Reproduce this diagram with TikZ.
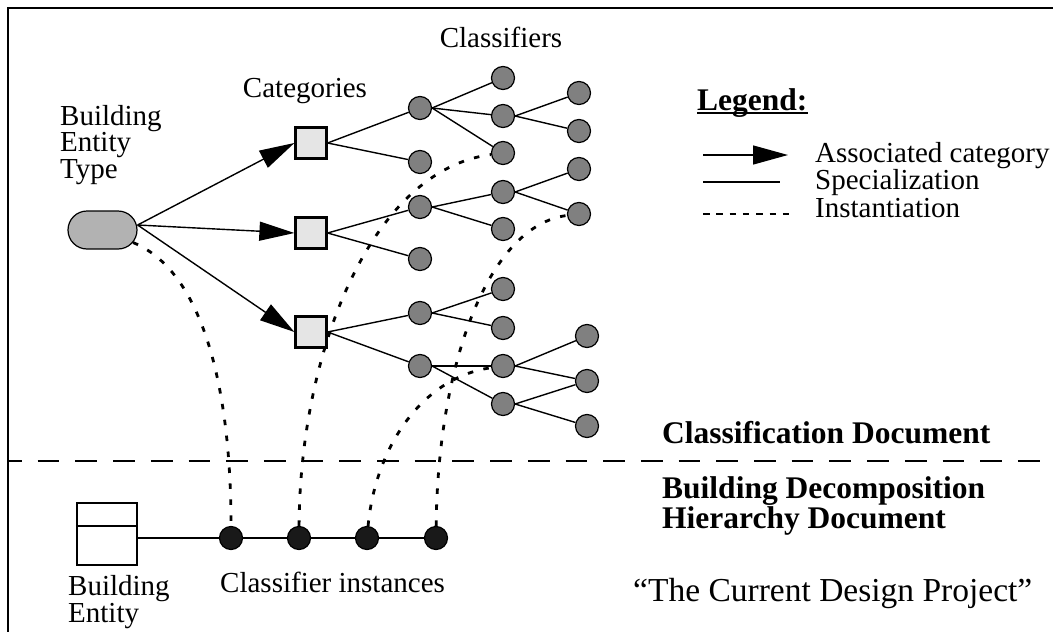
\documentclass[tikz,border=0pt]{standalone}
\usepackage{fontspec}
\setmainfont{Liberation Serif}
\usetikzlibrary{arrows.meta,shapes.misc,backgrounds}
\newcommand\regtxt{\fontsize{29}{25}\selectfont}
\newcommand\boldtxt{\fontsize{31.5}{28}\selectfont\bfseries}
\newcommand\quotetxt{\fontsize{33.5}{30}\selectfont}

\begin{document}
\begin{tikzpicture}[x=1pt,y=-1pt,
  frameline/.style={line width=2.4pt},
  bet/.style={rounded rectangle, draw, line width=1.2pt, fill=black!30,
    minimum width=69pt, minimum height=38pt, inner sep=0pt},
  cat/.style={rectangle, draw, line width=2.2pt, fill=black!10,
    minimum size=31pt, inner sep=0pt},
  cls/.style={circle, draw, line width=1.2pt, fill=black!50,
    minimum size=23pt, inner sep=0pt},
  inst/.style={circle, draw, line width=1.2pt, fill=black!90,
    minimum size=23pt, inner sep=0pt},
  entbox/.style={rectangle, draw, line width=2.4pt,
    minimum width=60pt, minimum height=62pt, inner sep=0pt},
  spec/.style={line width=1.4pt},
  assoc/.style={line width=1.4pt, -{Triangle[length=35pt,width=19pt]}},
  instline/.style={line width=2.8pt, dash pattern=on 5.5pt off 10.5pt},
  legdots/.style={line width=2.8pt, dash pattern=on 6.5pt off 6.8pt},
  sepline/.style={line width=2.2pt, dash pattern=on 21.7pt off 16pt, dash phase=8pt},
  lbl/.style={inner sep=0pt, font=\regtxt, align=left},
  blbl/.style={inner sep=0pt, font=\boldtxt, align=left}]

\useasboundingbox (0,0) rectangle (1053,632);

% outer frame (top and left edges)
\draw[frameline] (8,632) -- (8,8) -- (1053,8);

% ---- classification document ----
\node[bet] (bet) at (102.5,230) {};
\coordinate (betout) at ([yshift=5pt]bet.east);

\node[cat] (cat1) at (311,143) {};
\node[cat] (cat2) at (311,233) {};
\node[cat] (cat3) at (311,332) {};

% first level classifiers
\node[cls] (a1) at (420,108) {};
\node[cls] (a2) at (420,162) {};
\node[cls] (b1) at (420,207) {};
\node[cls] (b2) at (420,259) {};
\node[cls] (c1) at (420,313) {};
\node[cls] (c2) at (420,366) {};
% second level
\node[cls] (a11) at (503,78) {};
\node[cls] (a12) at (503,116) {};
\node[cls] (a13) at (503,153) {};
\node[cls] (b11) at (503,192) {};
\node[cls] (b12) at (503,229) {};
\node[cls] (c11) at (503,289) {};
\node[cls] (c12) at (503,328) {};
\node[cls] (c21) at (503,366) {};
\node[cls] (c22) at (503,404) {};
% third level
\node[cls] (a121) at (579,93) {};
\node[cls] (a122) at (579,131) {};
\node[cls] (b111) at (579,169) {};
\node[cls] (b112) at (579,214) {};
\node[cls] (c211) at (587,336) {};
\node[cls] (c212) at (587,381) {};
\node[cls] (c221) at (587,426) {};

% ---- building decomposition hierarchy document ----
\node[entbox] (be) at (107,534) {};
\draw[line width=2.4pt] ([yshift=-24pt]be.north west) -- ([yshift=-24pt]be.north east);

\node[inst] (i1) at (231,538) {};
\node[inst] (i2) at (299,538) {};
\node[inst] (i3) at (367,538) {};
\node[inst] (i4) at (436,538) {};

\begin{pgfonlayer}{background}
  % associated categories
  \draw[assoc] (betout) -- (cat1.west);
  \draw[assoc] (betout) -- (cat2.west);
  \draw[assoc] (betout) -- (cat3.west);
  % specializations
  \draw[spec] (cat1.east) -- (a1);
  \draw[spec] (cat1.east) -- (a2);
  \draw[spec] (cat2.east) -- (b1);
  \draw[spec] (cat2.east) -- (b2);
  \draw[spec] (cat3.east) -- (c1);
  \draw[spec] (cat3.east) -- (c2);
  \draw[spec] (a1.east) -- (a11);
  \draw[spec] (a1.east) -- (a12);
  \draw[spec] (a1.east) -- (a13);
  \draw[spec] (a12.east) -- (a121);
  \draw[spec] (a12.east) -- (a122);
  \draw[spec] (b1.east) -- (b11);
  \draw[spec] (b1.east) -- (b12);
  \draw[spec] (b11.east) -- (b111);
  \draw[spec] (b11.east) -- (b112);
  \draw[spec] (c1.east) -- (c11);
  \draw[spec] (c1.east) -- (c12);
  \draw[spec] (c2.east) -- (c21);
  \draw[spec] (c2.east) -- (c22);
  \draw[spec] (c21.east) -- (c211);
  \draw[spec] (c21.east) -- (c212);
  \draw[spec] (c22.east) -- (c212);
  \draw[spec] (c22.east) -- (c221);
  % building entity to its classifier instances
  \draw[spec] (be.east |- i1) -- (i4.east);
  % instantiations
  \draw[instline] (bet) .. controls (200,270) and (231,380) .. (i1);
  \draw[instline] (i2) .. controls (300,350) and (372,170) .. (a13);
  \draw[instline] (i3) .. controls (375,450) and (420,378) .. (c21);
  \draw[instline] (i4) .. controls (438,360) and (490,225) .. (b112);
\end{pgfonlayer}

% document separator
\coordinate (sepL) at (8,461);
\coordinate (sepR) at (1053,461);
\draw[sepline] (sepL) -- (sepR);

% labels (base anchor of a multi-line label is its last line)
\node[lbl, anchor=base west] (tbet) at (60,178) {Building\\Entity\\Type};
\node[lbl, anchor=base] (tcat) at (305,97) {Categories};
\node[lbl, anchor=base] (tcls) at (501,47) {Classifiers};
\node[lbl, anchor=base west] (tbe) at (68,622) {Building\\Entity};
\node[lbl, anchor=base west] (tinst) at (220,592) {Classifier instances};

\node[blbl, anchor=base west] (tcd) at (662,443) {Classification Document};
\node[blbl, anchor=base west] (tbd) at (662,528) {Building Decomposition\\Hierarchy Document};
\node[inner sep=0pt, font=\quotetxt, anchor=base west] (tproj) at (633,601) {“The Current Design Project”};

% legend
\node[blbl, anchor=base west] (leg) at (697,110) {Legend:};
\draw[line width=1.8pt] ([yshift=-3pt]leg.base west) -- ([yshift=-3pt]leg.base east);
\coordinate (l1a) at (703,155);
\coordinate (l1b) at (788,155);
\coordinate (l2a) at (703,182);
\coordinate (l2b) at (780,182);
\coordinate (l3a) at (703,214);
\coordinate (l3b) at (790,214);
\draw[assoc] (l1a) -- (l1b);
\draw[spec] (l2a) -- (l2b);
\draw[legdots] (l3a) -- (l3b);
\node[lbl, anchor=base west] (tl1) at (815,162) {Associated category};
\node[lbl, anchor=base west] (tl2) at (815,189) {Specialization};
\node[lbl, anchor=base west] (tl3) at (815,217) {Instantiation};

\end{tikzpicture}
\end{document}
